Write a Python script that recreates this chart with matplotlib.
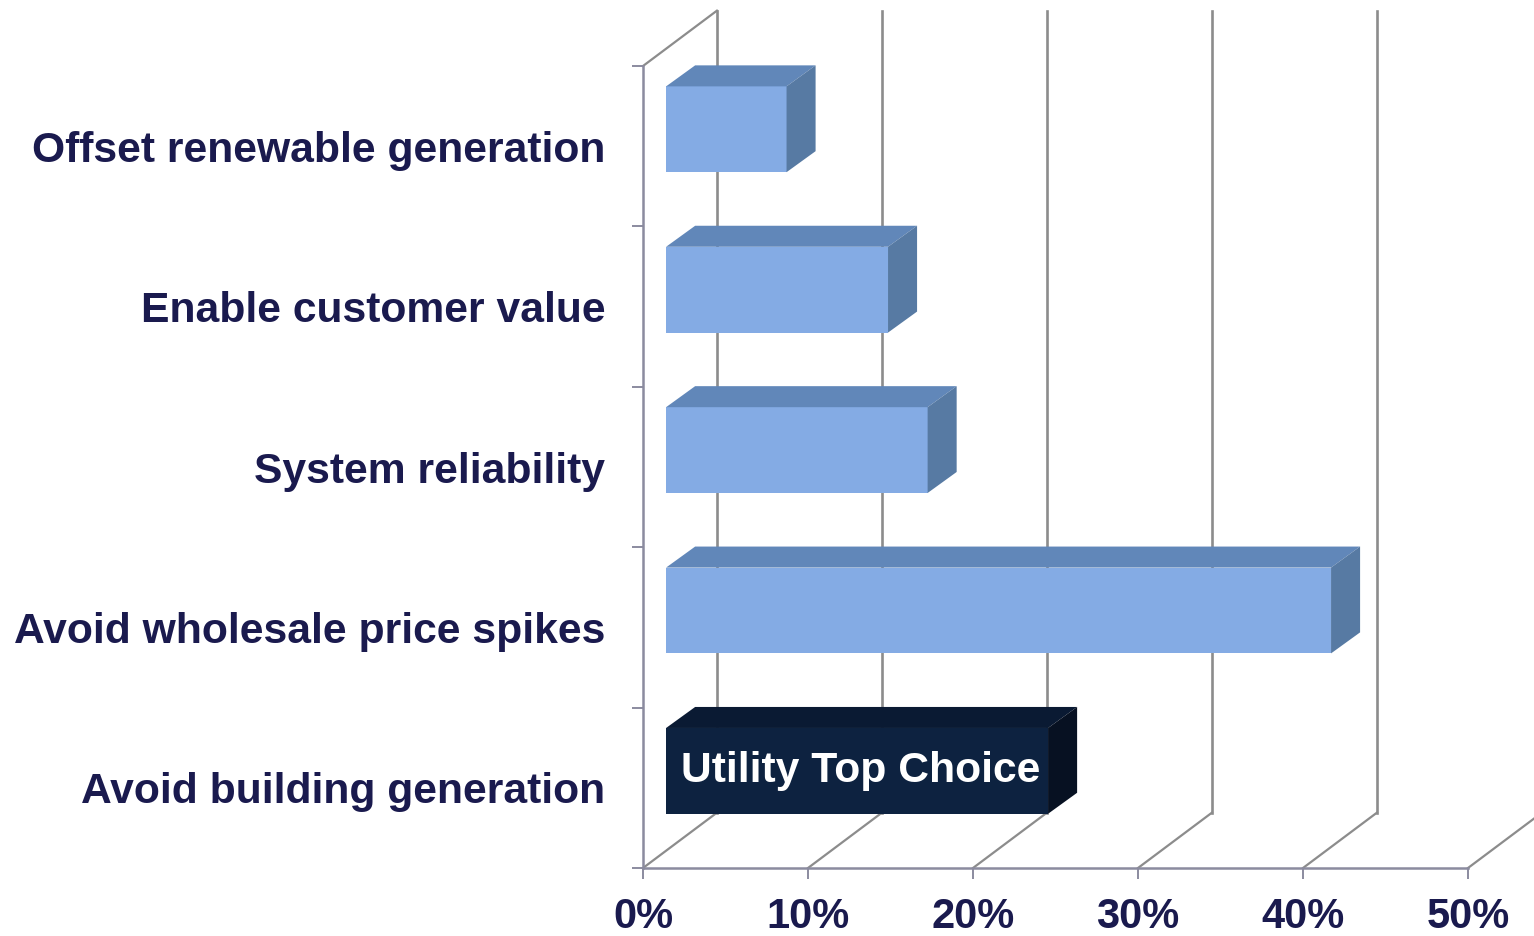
import matplotlib
matplotlib.use('Agg')
import matplotlib.pyplot as plt
from matplotlib.patches import Polygon

plt.rcParams['font.family'] = ['Liberation Sans', 'DejaVu Sans']

categories = ['Avoid building generation', 'Avoid wholesale price spikes', 'System reliability',
              'Enable customer value', 'Offset renewable generation']
values = [23.15, 40.3, 15.85, 13.45, 7.3]
xticks = [0, 10, 20, 30, 40, 50]
xticklabels = ['0%', '10%', '20%', '30%', '40%', '50%']
note = 'Utility Top Choice'

text_col = '#1a1a4e'
axis_col = '#8b8b9f'
grid_col = '#8c8c8c'
front_col = ['#0d2240', '#84abe4', '#84abe4', '#84abe4', '#84abe4']
top_col = ['#0a1a33', '#6187b9', '#6187b9', '#6187b9', '#6187b9']
side_col = ['#071122', '#577aa3', '#577aa3', '#577aa3', '#577aa3']

# 3d look, all in data units
wall_dx, wall_dy = 4.48, 0.345
bar_dx, bar_dy = 1.4, 0.338
depth_dx, depth_dy = 1.76, 0.131
bar_h = 0.535

W, H = 1534, 936
fig = plt.figure(figsize=(W / 100, H / 100), dpi=100)
ax = fig.add_axes([643 / W, (H - 868) / H, 825 / W, 802 / H])
ax.set_xlim(0, 50)
ax.set_ylim(0, 5)

# back wall and floor
for x in xticks:
    ax.plot([x, x + wall_dx], [0, wall_dy], color=grid_col, lw=1.6, clip_on=False, zorder=1)
    if x < 50:
        ax.plot([x + wall_dx] * 2, [wall_dy, 5 + wall_dy], color=grid_col, lw=1.9, clip_on=False, zorder=1)
ax.plot([0, wall_dx], [5, 5 + wall_dy], color=grid_col, lw=1.6, clip_on=False, zorder=1)

ypos = list(range(len(values)))
for i, v in enumerate(values):
    y0 = i + bar_dy
    y1 = y0 + bar_h
    x0 = bar_dx
    x1 = bar_dx + v
    ax.barh(y0, v, left=bar_dx, height=bar_h, align='edge', color=front_col[i], zorder=3, clip_on=False)
    ax.add_patch(Polygon([(x0, y1), (x1, y1), (x1 + depth_dx, y1 + depth_dy), (x0 + depth_dx, y1 + depth_dy)],
                         closed=True, fc=top_col[i], ec='none', zorder=3, clip_on=False))
    ax.add_patch(Polygon([(x1, y0), (x1, y1), (x1 + depth_dx, y1 + depth_dy), (x1 + depth_dx, y0 + depth_dy)],
                         closed=True, fc=side_col[i], ec='none', zorder=3, clip_on=False))

ax.text(bar_dx + 0.92, bar_dy + bar_h / 2, note, color='white', fontsize=30.7, fontweight='bold',
        va='center', ha='left', zorder=4)

for s in ['top', 'right']:
    ax.spines[s].set_visible(False)
for s in ['left', 'bottom']:
    ax.spines[s].set_color(axis_col)
    ax.spines[s].set_linewidth(1.8)
    ax.spines[s].set_zorder(2)

ax.set_xticks(xticks)
ax.set_xticklabels(xticklabels, fontsize=30, fontweight='bold', color=text_col)
ax.tick_params(axis='x', length=8, width=1.4, color=axis_col, pad=13)
ax.set_yticks(range(6))
ax.set_yticklabels([])
ax.tick_params(axis='y', which='major', length=8, width=1.4, color=axis_col)
ax.set_yticks([i + 0.5 for i in ypos], minor=True)
ax.set_yticklabels(categories, minor=True, fontsize=30.7, fontweight='bold', color=text_col)
ax.tick_params(axis='y', which='minor', length=0, pad=27)

plt.savefig('out.png', dpi=100)
